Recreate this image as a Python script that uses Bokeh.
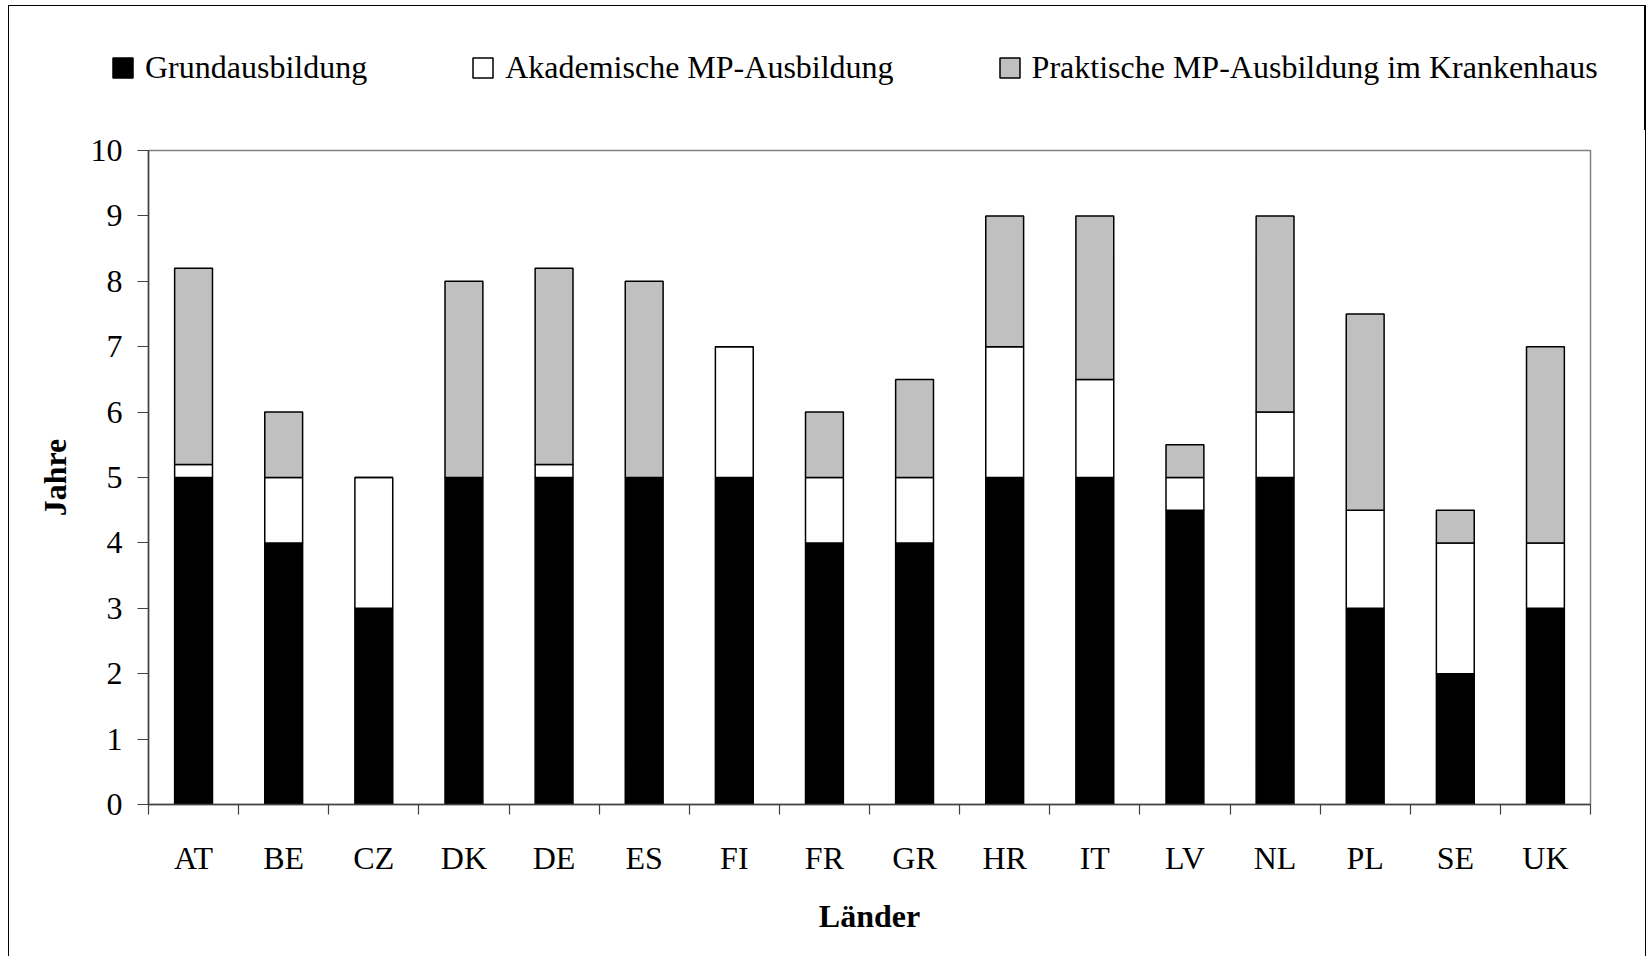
from bokeh.plotting import figure
from bokeh.layouts import column
from bokeh.models import (ColumnDataSource, FixedTicker, LinearAxis, Legend, LegendItem, Range1d)
from bokeh.embed import file_html
from bokeh.resources import INLINE

countries = ["AT", "BE", "CZ", "DK", "DE", "ES", "FI", "FR", "GR", "HR", "IT", "LV", "NL", "PL", "SE", "UK"]
grund = [5, 4, 3, 5, 5, 5, 5, 4, 4, 5, 5, 4.5, 5, 3, 2, 3]
akad = [0.2, 1, 2, 0, 0.2, 0, 2, 1, 1, 2, 1.5, 0.5, 1, 1.5, 2, 1]
prakt = [3, 1, 0, 3, 3, 3, 0, 1, 1.5, 2, 2.5, 0.5, 3, 3, 0.5, 3]
series_names = ["Grundausbildung", "Akademische MP-Ausbildung", "Praktische MP-Ausbildung im Krankenhaus"]
series_keys = ["grund", "akad", "prakt"]
series_colors = ["#000000", "#FFFFFF", "#C0C0C0"]
y_ticks = list(range(0, 11))

FONT = "Liberation Serif"
FS = "32px"
TXT = "#000000"
W = 1636
LEG_H = 124
MAIN_H = 826

xpos = [i + 0.5 for i in range(len(countries))]
src = ColumnDataSource(dict(x=xpos, grund=grund, akad=akad, prakt=prakt))

# ---- main chart ----
p = figure(width=W, height=MAIN_H, output_backend="svg", toolbar_location=None,
           x_range=Range1d(0, len(countries)), y_range=Range1d(0, 10),
           x_axis_location=None, y_axis_location=None,
           min_border_left=139, min_border_right=55, min_border_top=20, min_border_bottom=152)
p.frame_align = False
p.grid.visible = False
p.outline_line_color = "#808080"
p.outline_line_width = 1.5

p.vbar_stack(series_keys, x="x", width=0.42, source=src,
             fill_color=series_colors, line_color="black", line_width=1.5)

yax = LinearAxis(ticker=FixedTicker(ticks=y_ticks), axis_label="Jahre")
yax.axis_line_color = "#404040"
yax.axis_line_width = 1.5
yax.major_tick_line_color = "#404040"
yax.major_tick_out = 11
yax.major_tick_in = 0
yax.minor_tick_line_color = None
yax.major_label_text_font = FONT
yax.major_label_text_font_size = FS
yax.major_label_text_color = TXT
yax.major_label_standoff = 15
yax.axis_label_text_font = FONT
yax.axis_label_text_font_size = FS
yax.axis_label_text_font_style = "bold"
yax.axis_label_text_color = TXT
yax.axis_label_standoff = 15
p.add_layout(yax, "left")

xax = LinearAxis(ticker=FixedTicker(ticks=xpos, minor_ticks=list(range(len(countries) + 1))),
                 axis_label="Länder")
xax.major_label_overrides = {x: c for x, c in zip(xpos, countries)}
xax.axis_line_color = "#404040"
xax.axis_line_width = 1.5
xax.major_tick_line_color = None
xax.minor_tick_line_color = "#404040"
xax.minor_tick_line_width = 1.2
xax.minor_tick_out = 10
xax.minor_tick_in = 0
xax.major_label_text_font = FONT
xax.major_label_text_font_size = FS
xax.major_label_text_color = TXT
xax.major_label_standoff = 25
xax.axis_label_text_font = FONT
xax.axis_label_text_font_size = FS
xax.axis_label_text_font_style = "bold"
xax.axis_label_text_color = TXT
xax.axis_label_standoff = 19
p.add_layout(xax, "below")

# ---- legend row: same stacked bars drawn through a range that keeps them out of view ----
lf = figure(width=W, height=LEG_H, output_backend="svg", toolbar_location=None,
            x_range=Range1d(-20, -19), y_range=Range1d(0, 1),
            x_axis_location=None, y_axis_location=None,
            min_border_left=0, min_border_right=0, min_border_top=0, min_border_bottom=0)
lf.frame_align = False
lf.grid.visible = False
lf.outline_line_color = None
proxies = lf.vbar_stack(series_keys, x="x", width=0.42, source=src,
                        fill_color=series_colors, line_color="black", line_width=1.5)

legend = Legend(items=[LegendItem(label=n, renderers=[r]) for n, r in zip(series_names, proxies)],
                orientation="horizontal", location=(101, 44), spacing=103,
                glyph_width=25, glyph_height=25, label_standoff=10, padding=0, margin=0,
                border_line_color=None, background_fill_alpha=0,
                label_text_font=FONT, label_text_font_size=FS, label_text_color=TXT,
                label_height=30)
lf.add_layout(legend, "center")

layout = column(lf, p, spacing=0,
                styles={"margin-left": "8px", "margin-top": "5px",
                        "border-left": "1.5px solid #000", "border-top": "1.5px solid #000",
                        "border-right": "1.5px solid #000"})

open("out.html", "w").write(file_html(layout, INLINE))
